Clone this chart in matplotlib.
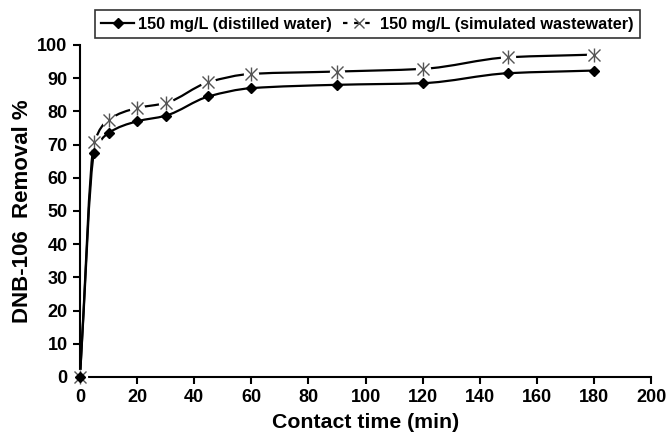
import numpy as np
import matplotlib.pyplot as plt
from matplotlib.path import Path
from matplotlib.patches import PathPatch
from matplotlib.lines import Line2D

plt.rcParams["font.family"] = ["Liberation Sans", "DejaVu Sans"]
plt.rcParams["font.weight"] = "bold"

# contact time (min) and DNB-106 removal (%)
time_min = [0, 5, 10, 20, 30, 45, 60, 90, 120, 150, 180]
removal_distilled = [0, 67.5, 73.5, 77.0, 78.7, 84.5, 87.0, 88.0, 88.5, 91.5, 92.3]
removal_simulated = [0, 70.7, 77.5, 81.0, 82.5, 88.8, 91.3, 92.0, 92.8, 96.3, 97.1]

label_distilled = "150 mg/L (distilled water)"
label_simulated = "150 mg/L (simulated wastewater)"


def smooth_path(x, y):
    # monotone cubic (Fritsch-Carlson) tangents, drawn as bezier segments
    x = np.asarray(x, float)
    y = np.asarray(y, float)
    h = np.diff(x)
    d = np.diff(y) / h
    m = np.zeros_like(y)
    m[0], m[-1] = d[0], d[-1]
    for i in range(1, len(x) - 1):
        if d[i - 1] * d[i] <= 0:
            m[i] = 0
        else:
            w1 = 2 * h[i] + h[i - 1]
            w2 = h[i] + 2 * h[i - 1]
            m[i] = (w1 + w2) / (w1 / d[i - 1] + w2 / d[i])
    verts = [(x[0], y[0])]
    codes = [Path.MOVETO]
    for i in range(len(x) - 1):
        verts += [(x[i] + h[i] / 3, y[i] + m[i] * h[i] / 3),
                  (x[i + 1] - h[i] / 3, y[i + 1] - m[i + 1] * h[i] / 3),
                  (x[i + 1], y[i + 1])]
        codes += [Path.CURVE4] * 3
    return Path(verts, codes)


fig = plt.figure(figsize=(6.69, 4.38), dpi=100)
ax = fig.add_axes([0.1196, 0.1393, 0.8535, 0.758])

ax.add_patch(PathPatch(smooth_path(time_min, removal_distilled), fill=False,
                       edgecolor="black", linewidth=1.6, zorder=2))
ax.add_patch(PathPatch(smooth_path(time_min, removal_simulated), fill=False,
                       edgecolor="black", linewidth=1.6, zorder=2))

# white halo behind star markers breaks the line around them
ax.plot(time_min, removal_simulated, linestyle="none", marker="o", markersize=11,
        markerfacecolor="white", markeredgecolor="none", zorder=3, clip_on=False)
ax.plot(time_min, removal_simulated, linestyle="none", marker="x", markersize=9,
        markeredgecolor="#555555", markeredgewidth=1.0, zorder=4, clip_on=False)
ax.plot(time_min, removal_simulated, linestyle="none", marker="|", markersize=10,
        markeredgecolor="#555555", markeredgewidth=1.0, zorder=4, clip_on=False)
ax.plot(time_min, removal_distilled, linestyle="none", marker="D", markersize=5,
        color="black", zorder=4, clip_on=False)

ax.set_xlim(0, 200)
ax.set_ylim(0, 100)
ax.set_xticks(range(0, 201, 20))
ax.set_yticks(range(0, 101, 10))
ax.spines["top"].set_visible(False)
ax.spines["right"].set_visible(False)
for s in ("left", "bottom"):
    ax.spines[s].set_linewidth(1.5)
ax.tick_params(direction="out", length=5, width=1.5, labelsize=13, pad=4)
ax.set_xlabel("Contact time (min)", fontsize=15.3, fontweight="bold", labelpad=5)
ax.set_ylabel("DNB-106  Removal %", fontsize=16, fontweight="bold", labelpad=3)

handles = [
    Line2D([], [], color="black", linewidth=1.6, marker="D", markersize=5),
    Line2D([], [], color="black", linewidth=1.6, linestyle=(0, (2, 3)),
           marker="x", markersize=7, markeredgecolor="#555555"),
]
leg = fig.legend(handles, [label_distilled, label_simulated], loc="upper left",
                 bbox_to_anchor=(0.142, 0.977), ncol=2, frameon=True, fancybox=False,
                 edgecolor="black", fontsize=11.7, handlelength=2.0,
                 handletextpad=0.25, columnspacing=0.7, borderpad=0.4,
                 borderaxespad=0)
leg.get_frame().set_linewidth(1.2)

fig.savefig("out.png", dpi=100)
